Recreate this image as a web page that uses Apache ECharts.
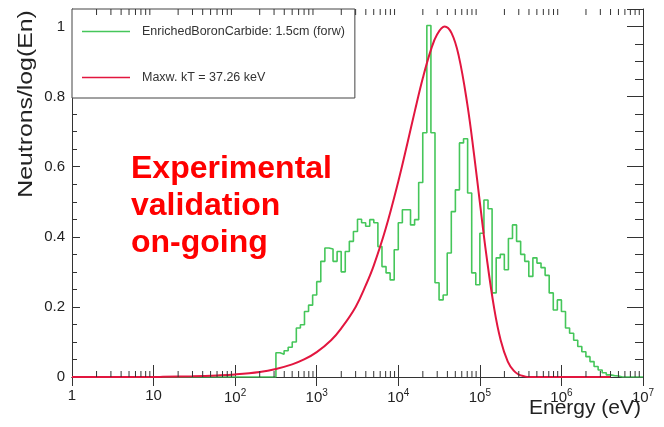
<!DOCTYPE html>
<html>
<head>
<meta charset="utf-8">
<title>Neutron spectrum</title>
<script src="https://cdn.jsdelivr.net/npm/echarts@6/dist/echarts.min.js"></script>
<style>
  html, body { margin: 0; padding: 0; background: #fff; }
  #chart { width: 664px; height: 427px; }
</style>
</head>
<body>
<div id="chart"></div>
<script>
// histogram binning: 20 log bins per decade, first bin edge at 10^2.5 eV
var binsPerDecade = 20
var firstEdgeLog = 2.5

// EnrichedBoronCarbide 1.5cm (forw), one value per bin
var boronCounts = [
  0.069, 0.065, 0.075, 0.085, 0.10, 0.14, 0.149, 0.187, 0.205, 0.234,
  0.272, 0.33, 0.368, 0.365, 0.33, 0.358, 0.30, 0.358, 0.387, 0.415,
  0.45, 0.44, 0.43, 0.449, 0.44, 0.372, 0.315, 0.297, 0.277, 0.363,
  0.44, 0.477, 0.477, 0.434, 0.449, 0.555, 0.697, 1.003, 0.697, 0.269,
  0.22, 0.234, 0.354, 0.472, 0.534, 0.668, 0.68, 0.525, 0.297, 0.263,
  0.41, 0.505, 0.48, 0.24, 0.34, 0.35, 0.306, 0.395, 0.434, 0.387,
  0.35, 0.33, 0.287, 0.34, 0.325, 0.312, 0.29, 0.24, 0.191, 0.22,
  0.187, 0.14, 0.125, 0.105, 0.087, 0.072, 0.058, 0.044, 0.03, 0.02,
  0.012, 0.006, 0.004, 0.003, 0, 0, 0, 0, 0, 0
]

// Maxwellian curve
var maxwEnergy = [1, 10, 13, 30, 60, 100, 200, 316, 500, 700, 1000, 1500, 2000, 3000, 4000, 5000, 7000,
  10000, 13000, 16000, 20000, 25000, 30000, 37000, 45000, 55000, 70000, 85000, 100000, 120000,
  150000, 180000, 220000, 260000, 300000, 350000, 400000, 4000000]
var maxwValue = [0, 0, 0.0004, 0.002, 0.0044, 0.0073, 0.0145, 0.023, 0.036, 0.05, 0.071, 0.105, 0.139, 0.2, 0.262, 0.318, 0.423,
  0.558, 0.669, 0.76, 0.853, 0.932, 0.978, 1.0, 0.981, 0.917, 0.78, 0.634, 0.498, 0.349,
  0.195, 0.105, 0.044, 0.018, 0.007, 0.002, 0, 0]

var xMin = 1
var xMax = 1e7
var yMax = 1.05

var greenName = 'EnrichedBoronCarbide: 1.5cm (forw)'
var redName = 'Maxw. kT = 37.26 keV'
var font = "'Liberation Sans', Arial, sans-serif"
var axisColor = '#333'

// step points: lower edge of each bin, plus the last upper edge
var boronData = [[12.6, 0]]
for (var i = 0; i < boronCounts.length; i++) {
  boronData.push([Math.pow(10, firstEdgeLog + i / binsPerDecade), boronCounts[i]])
}
boronData.push([Math.pow(10, firstEdgeLog + boronCounts.length / binsPerDecade), 0])

var maxwData = maxwEnergy.map(function (e, i) { return [e, maxwValue[i]] })

// minor ticks at 2..9 x 10^n
var minorTicks = []
for (var d = 0; d < 7; d++) {
  for (var m = 2; m <= 9; m++) minorTicks.push([m * Math.pow(10, d), 0])
}

var myChart = echarts.init(document.getElementById('chart'))

var xAxisBase = {
  type: 'log',
  logBase: 10,
  min: xMin,
  max: xMax,
  splitNumber: 7,
  splitLine: { show: false },
  axisLine: { lineStyle: { color: axisColor, width: 1 } }
}

var option = {
  animation: false,
  textStyle: { fontFamily: font },
  grid: { left: 72, right: 21, top: 9, bottom: 50 },
  legend: {
    data: [greenName, redName],
    orient: 'vertical',
    left: 72,
    top: 9,
    icon: 'rect',
    itemWidth: 48,
    itemHeight: 1.5,
    itemGap: 33,
    padding: [16, 10, 14, 10],
    backgroundColor: '#fff',
    borderColor: '#444',
    borderWidth: 1,
    selectedMode: false,
    textStyle: { fontSize: 12.5, color: '#333', padding: [0, 0, 0, 7] }
  },
  xAxis: [
    Object.assign({}, xAxisBase, {
      position: 'bottom',
      axisTick: { inside: true, length: 12, lineStyle: { color: axisColor } },
      axisLabel: {
        color: '#222',
        fontSize: 15,
        margin: 11,
        formatter: function (v) {
          var p = Math.round(Math.log10(v))
          if (p === 0) return '1'
          if (p === 1) return '10'
          return '{b|10}{s|' + p + '}'
        },
        rich: {
          b: { fontSize: 15, color: '#222' },
          s: { fontSize: 10, color: '#222', verticalAlign: 'top', padding: [0, 0, 9, 0] }
        }
      }
    }),
    Object.assign({}, xAxisBase, {
      position: 'top',
      axisTick: { inside: true, length: 9, lineStyle: { color: axisColor } },
      axisLabel: { show: false }
    })
  ],
  yAxis: [
    {
      type: 'value',
      position: 'left',
      min: 0,
      max: yMax,
      interval: 0.2,
      splitLine: { show: false },
      axisLine: { show: true, lineStyle: { color: axisColor } },
      axisTick: { inside: true, length: 8, lineStyle: { color: axisColor } },
      minorTick: { show: true, splitNumber: 4, length: 5, lineStyle: { color: axisColor } },
      axisLabel: { color: '#222', fontSize: 15, margin: 7, showMaxLabel: false }
    },
    {
      type: 'value',
      position: 'right',
      min: 0,
      max: yMax,
      interval: 0.2,
      splitLine: { show: false },
      axisLine: { show: true, lineStyle: { color: axisColor } },
      axisTick: { inside: true, length: 16, lineStyle: { color: axisColor } },
      minorTick: { show: true, splitNumber: 4, length: 8, lineStyle: { color: axisColor } },
      axisLabel: { show: false }
    }
  ],
  series: [
    {
      name: greenName,
      type: 'line',
      step: 'end',
      data: boronData,
      symbol: 'none',
      color: '#45c65a',
      lineStyle: { color: '#45c65a', width: 1.6 },
      z: 2
    },
    {
      name: redName,
      type: 'line',
      smooth: 0.4,
      data: maxwData,
      symbol: 'none',
      color: '#e2163f',
      lineStyle: { color: '#e2163f', width: 2 },
      z: 3
    },
    {
      type: 'custom',
      silent: true,
      data: minorTicks,
      z: 4,
      renderItem: function (params, api) {
        var cs = params.coordSys
        var x = api.coord([api.value(0), 0])[0]
        var bottom = cs.y + cs.height
        var top = cs.y
        return {
          type: 'group',
          children: [
            { type: 'line', shape: { x1: x, y1: bottom, x2: x, y2: bottom - 6 }, style: { stroke: axisColor, lineWidth: 1 } },
            { type: 'line', shape: { x1: x, y1: top, x2: x, y2: top + 6 }, style: { stroke: axisColor, lineWidth: 1 } }
          ]
        }
      }
    }
  ],
  graphic: [
    {
      type: 'text',
      x: 26,
      y: 104,
      rotation: Math.PI / 2,
      scaleX: 1.24,
      style: {
        text: 'Neutrons/log(En)',
        font: '20px ' + font,
        fill: '#222',
        textAlign: 'center',
        textVerticalAlign: 'middle'
      }
    },
    {
      type: 'text',
      x: 641,
      y: 408,
      style: {
        text: 'Energy (eV)',
        font: '21px ' + font,
        fill: '#222',
        textAlign: 'right',
        textVerticalAlign: 'middle'
      }
    },
    {
      type: 'text',
      x: 131,
      y: 151,
      style: {
        text: 'Experimental\nvalidation\non-going',
        font: 'bold 32px ' + font,
        lineHeight: 37,
        fill: '#ff0000',
        textAlign: 'left'
      }
    }
  ]
}

myChart.setOption(option)
</script>
</body>
</html>
